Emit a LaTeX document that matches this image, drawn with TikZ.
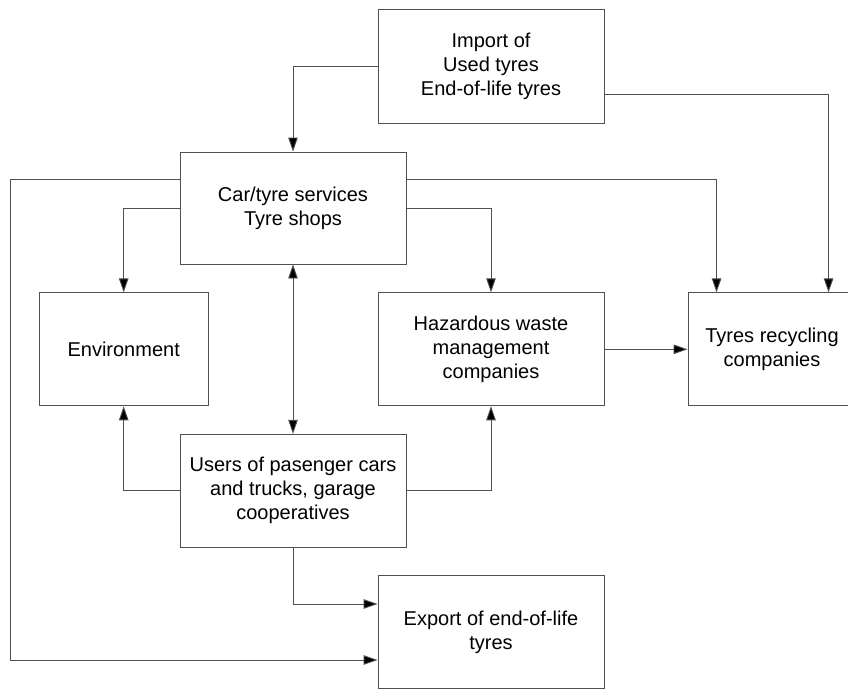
\documentclass[tikz,border=0pt]{standalone}
\usepackage{fontspec}
\setmainfont{Liberation Sans}
\usetikzlibrary{arrows.meta,calc}
\definecolor{linegray}{RGB}{80,80,80}
\tikzset{
  box/.style={draw=linegray, line width=0.9pt, rectangle, align=center,
    inner sep=0pt, font=\fontsize{20}{24}\selectfont},
  conn/.style={draw=linegray, line width=0.9pt},
  arr/.style={conn, -{Triangle[length=14pt,width=9.5pt,fill=black]}},
  darr/.style={conn, {Triangle[length=14pt,width=9.5pt,fill=black]}-{Triangle[length=14pt,width=9.5pt,fill=black]}}
}
\begin{document}
\begin{tikzpicture}[x=1pt,y=-1pt]
\fill[white] (0,0) rectangle (848,689);
\clip (0,0) rectangle (848,689);
\useasboundingbox (0,0) rectangle (848,689);

\node[box, minimum width=226pt, minimum height=114pt] (imp) at (491,66) {Import of\\Used tyres\\End-of-life tyres};
\node[box, minimum width=226pt, minimum height=112pt] (car) at (293,208) {Car/tyre services\\Tyre shops};
\node[box, minimum width=169pt, minimum height=113pt] (env) at (123.7,349.3) {Environment};
\node[box, minimum width=226pt, minimum height=113pt] (haz) at (491,349.3) {Hazardous waste\\management\\companies};
\node[box, minimum width=168pt, minimum height=113pt] (rec) at (772,349.3) {Tyres recycling\\companies};
\node[box, minimum width=226pt, minimum height=113pt] (usr) at (293,490.8) {Users of pasenger cars\\and trucks, garage\\cooperatives};
\node[box, minimum width=226pt, minimum height=112.6pt] (exp) at (491,632) {Export of end-of-life\\tyres};

\coordinate (leftx) at (10.7,0);
\coordinate (expin) at ($(exp.west)+(0,28)$);
\coordinate (expin2) at ($(exp.west)+(0,-28)$);

% from import
\draw[arr] (imp.west) -| (car.north);
\draw[arr] ($(imp.east)+(0,28.3)$) -| ($(rec.north west)+(141,0)$);

% from car services
\draw[arr] (car.west) -| (env.north);
\draw[arr] (car.east) -| (haz.north);
\draw[arr] ($(car.east)+(0,-28.5)$) -| ($(rec.north west)+(29,0)$);
\draw[arr] ($(car.west)+(0,-28.5)$) -| (leftx |- expin) -- (expin);
\draw[darr] (car.south) -- (usr.north);

% from users
\draw[arr] (usr.west) -| (env.south);
\draw[arr] (usr.east) -| (haz.south);
\draw[arr] (usr.south) |- (expin2);

% hazardous to recycling
\draw[arr] (haz.east) -- (rec.west);
\end{tikzpicture}
\end{document}
